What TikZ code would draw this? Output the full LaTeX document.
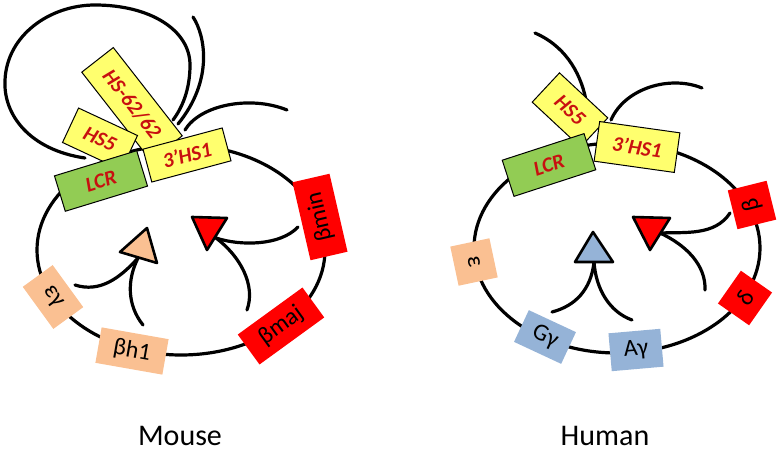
\documentclass[tikz,border=0pt]{standalone}
\usepackage{fontspec}
\setmainfont{Carlito}
\usepackage{xcolor}
\usepackage{tikz}
\usetikzlibrary{calc}

\definecolor{hsyellow}{RGB}{255,255,110}
\definecolor{lcrgreen}{RGB}{146,204,84}
\definecolor{embsalmon}{RGB}{250,192,146}
\definecolor{fetblue}{RGB}{149,179,215}
\definecolor{adred}{RGB}{255,0,0}
\definecolor{labred}{RGB}{200,16,16}

\tikzset{
    chrom/.style={line width=3.2pt, line cap=round},
    hsbox/.style={draw=black, line width=1pt, fill=hsyellow, inner sep=0pt,
        text=labred, font=\fontsize{21}{21}\selectfont\bfseries\itshape},
    lcrbox/.style={hsbox, fill=lcrgreen},
    genebox/.style={inner sep=0pt, text=black, font=\fontsize{24}{24}\selectfont},
    tri/.style={line width=2.6pt, line join=round},
    title/.style={font=\fontsize{30}{30}\selectfont}
}

\begin{document}
\begin{tikzpicture}[x=1pt, y=-1pt]
        \useasboundingbox (0,0) rectangle (780,457);
        %MOUSE
        %LOOPS
        \draw[chrom] (85,158) .. controls (30,150) and (3,115) .. (5,80)
            .. controls (7,35) and (50,5) .. (95,5)
            .. controls (150,5) and (190,30) .. (190,65)
            .. controls (190,90) and (182,108) .. (173,120);
        \draw[chrom] (193,17) .. controls (205,35) and (214,80) .. (178,124);
        \draw[chrom] (287,110) .. controls (250,95) and (200,105) .. (185,130);
        \draw[chrom] (181,250) ellipse [x radius=144, y radius=105];
        %BOXES
        \node[hsbox, minimum width=112, minimum height=40, rotate=-52] (mhs62) at (132,104) {HS-62/62};
        \node[hsbox, minimum width=65, minimum height=38, rotate=-25] (mhs5) at (100,139) {HS5};
        \node[lcrbox, minimum width=86, minimum height=37, rotate=17] (mlcr) at (101,181) {LCR};
        \node[hsbox, minimum width=82, minimum height=34, rotate=15] (mhs1) at (187,155) {3’HS1};
        \node[genebox, fill=adred, minimum width=80, minimum height=38, rotate=103] (mbmin) at (320,217) {βmin};
        \node[genebox, fill=adred, minimum width=80, minimum height=37, rotate=36] (mbmaj) at (281,326) {βmaj};
        \node[genebox, fill=embsalmon, minimum width=68, minimum height=36, rotate=-10] (mbh1) at (132,351) {βh1};
        \node[genebox, fill=embsalmon, minimum width=52, minimum height=37, rotate=-54] (mey) at (53,297) {εγ};
        %ARROWS
        \coordinate (mey-out) at (75,285);
        \coordinate (mbh1-out) at (143,325);
        \coordinate (mbmin-out) at (298,227);
        \coordinate (mbmaj-out) at (247,310);
        \coordinate (mtri1) at (138,258);
        \coordinate (mtri2) at (216,238);
        \draw[chrom] (mey-out) .. controls (100,293) and (120,278) .. (mtri1);
        \draw[chrom] (mbh1-out) .. controls (127,305) and (127,280) .. (mtri1);
        \draw[chrom] (mbmin-out) .. controls (280,246) and (240,246) .. (mtri2);
        \draw[chrom] (mbmaj-out) .. controls (256,285) and (240,256) .. (mtri2);
        \filldraw[tri, fill=embsalmon] (120,252) -- (147,228) -- (157,263) -- cycle;
        \filldraw[tri, fill=adred] (192,217) -- (227,218) -- (207,250) -- cycle;
        \node[title] (mouse) at (180,436) {Mouse};

        %HUMAN
        %LOOPS
        \draw[chrom] (535,33) .. controls (563,45) and (580,70) .. (586,100);
        \draw[chrom] (702,88) .. controls (670,75) and (625,88) .. (611,120);
        \draw[chrom] (617,248) ellipse [x radius=143, y radius=105];
        %BOXES
        \node[hsbox, minimum width=66, minimum height=40, rotate=-43] (hhs5) at (570,110) {HS5};
        \node[lcrbox, minimum width=86, minimum height=38, rotate=18] (hlcr) at (549,165) {LCR};
        \node[hsbox, minimum width=81, minimum height=40, rotate=-8] (hhs1) at (637,147) {3’HS1};
        \node[genebox, fill=adred, minimum width=40, minimum height=40, rotate=104] (hb) at (752,205) {β};
        \node[genebox, fill=adred, minimum width=40, minimum height=38, rotate=55] (hd) at (745,298) {δ};
        \node[genebox, fill=embsalmon, minimum width=40, minimum height=40, rotate=-78] (he) at (474,262) {ε};
        \node[genebox, fill=fetblue, minimum width=52, minimum height=35, rotate=-25] (hgg) at (545,337) {Gγ};
        \node[genebox, fill=fetblue, minimum width=52, minimum height=38, rotate=5] (hag) at (636,350) {Aγ};
        %ARROWS
        \coordinate (hgg-out) at (552,312);
        \coordinate (hag-out) at (632,320);
        \coordinate (hb-out) at (730,213);
        \coordinate (hd-out) at (705,290);
        \coordinate (htri1) at (594,262);
        \coordinate (htri2) at (660,233);
        \draw[chrom] (hgg-out) .. controls (575,306) and (591,290) .. (htri1);
        \draw[chrom] (hag-out) .. controls (610,312) and (596,290) .. (htri1);
        \draw[chrom] (hb-out) .. controls (715,236) and (685,232) .. (htri2);
        \draw[chrom] (hd-out) .. controls (706,265) and (686,245) .. (htri2);
        \filldraw[tri, fill=fetblue] (575,262) -- (593,232) -- (613,262) -- cycle;
        \filldraw[tri, fill=adred] (633,217) -- (670,218) -- (650,250) -- cycle;
        \node[title] (human) at (605,436) {Human};
\end{tikzpicture}
\end{document}
